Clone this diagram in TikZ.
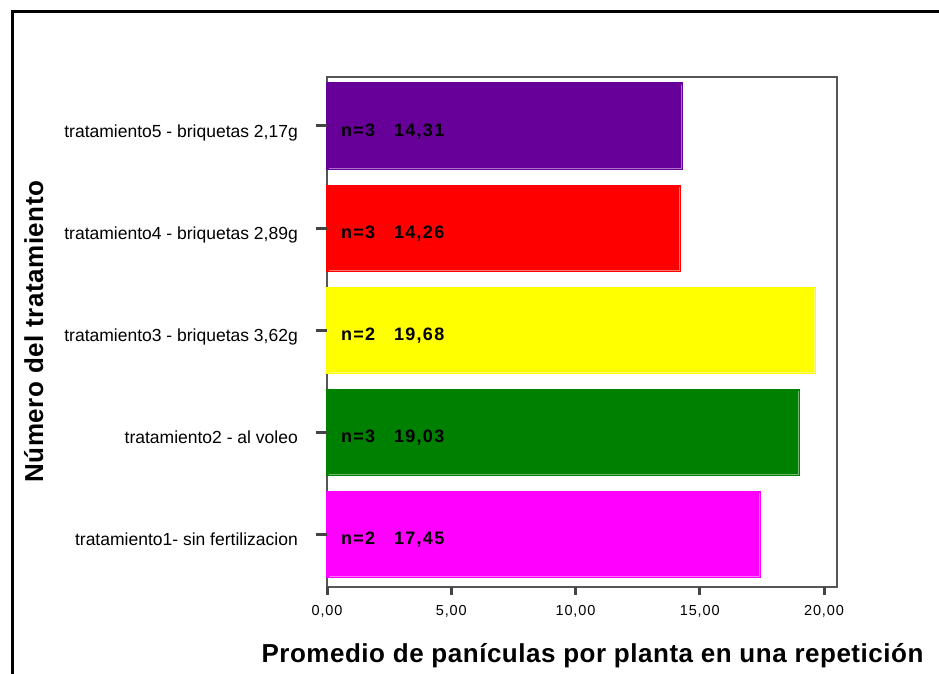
\documentclass[tikz,border=0pt]{standalone}
\usepackage{fontspec}
\setmainfont{Liberation Sans}
\newfontfamily\tickfont[LetterSpace=6]{Liberation Sans}
\newfontfamily\barfont[LetterSpace=7]{Liberation Sans}
\newfontfamily\titlefont[LetterSpace=2]{Liberation Sans}
\definecolor{barpurple}{HTML}{660099}
\definecolor{barred}{HTML}{FF0000}
\definecolor{baryellow}{HTML}{FFFF00}
\definecolor{bargreen}{HTML}{008000}
\definecolor{barmagenta}{HTML}{FF00FF}
\definecolor{axisgray}{HTML}{555555}
\definecolor{tickgray}{HTML}{444444}
\begin{document}
\begin{tikzpicture}[x=1pt,y=-1pt,
  catlbl/.style={anchor=base east,inner sep=0pt,font=\fontsize{17.5}{17.5}\selectfont},
  barlbl/.style={anchor=base west,inner sep=0pt,font=\barfont\bfseries\fontsize{18}{18}\selectfont},
  ticklbl/.style={anchor=base,inner sep=0pt,font=\tickfont\fontsize{14.5}{14.5}\selectfont},
  axtitle/.style={anchor=base,inner sep=0pt,font=\titlefont\bfseries\fontsize{26}{26}\selectfont},
  tickmark/.style={draw=tickgray,line width=3pt},
  plotframe/.style={draw=axisgray,line width=1.5pt},
  bevel/.style={draw=white,opacity=0.45,line width=0.8pt}]
\useasboundingbox (0,0) rectangle (939,674);
% outer frame
\draw[line width=3pt] (12,674) -- (12,12) -- (939,12);
% plot area
\draw[plotframe] (327,77) rectangle (837,587);
% bars
\foreach \i/\v/\col/\nn/\val/\cat in {
 0/14.31/barpurple/3/{14,31}/{tratamiento5 - briquetas 2,17g},
 1/14.26/barred/3/{14,26}/{tratamiento4 - briquetas 2,89g},
 2/19.68/baryellow/2/{19,68}/{tratamiento3 - briquetas 3,62g},
 3/19.03/bargreen/3/{19,03}/{tratamiento2 - al voleo},
 4/17.45/barmagenta/2/{17,45}/{tratamiento1- sin fertilizacion}}
{
 \pgfmathsetmacro\c{126+102.1*\i}
 \pgfmathsetmacro\xe{327+24.85*\v}
 \fill[\col] (326,\c-43.5) rectangle (\xe,\c+43.5);
 \draw[bevel] (\xe-1.5,\c-41) -- (\xe-1.5,\c+42) -- (329,\c+42);
 \draw[tickmark] (316,\c) -- (327,\c);
 \node[catlbl] (cat\i) at (298,\c+11) {\cat};
 \node[barlbl] (n\i) at (341,\c+10) {n=\nn};
 \node[barlbl] (v\i) at (394,\c+10) {\val};
}
% x ticks
\foreach \k/\t in {0/{0,00},5/{5,00},10/{10,00},15/{15,00},20/{20,00}}
{
 \pgfmathsetmacro\xx{327+24.85*\k}
 \draw[tickmark] (\xx,587) -- (\xx,595);
 \node[ticklbl] (t\k) at (\xx,615) {\t};
}
% titles
\node[axtitle] (xt) at (592.5,662) {Promedio de panículas por planta en una repetición};
\node[axtitle,rotate=90] (yt) at (43,331.5) {Número del tratamiento};
\end{tikzpicture}
\end{document}
